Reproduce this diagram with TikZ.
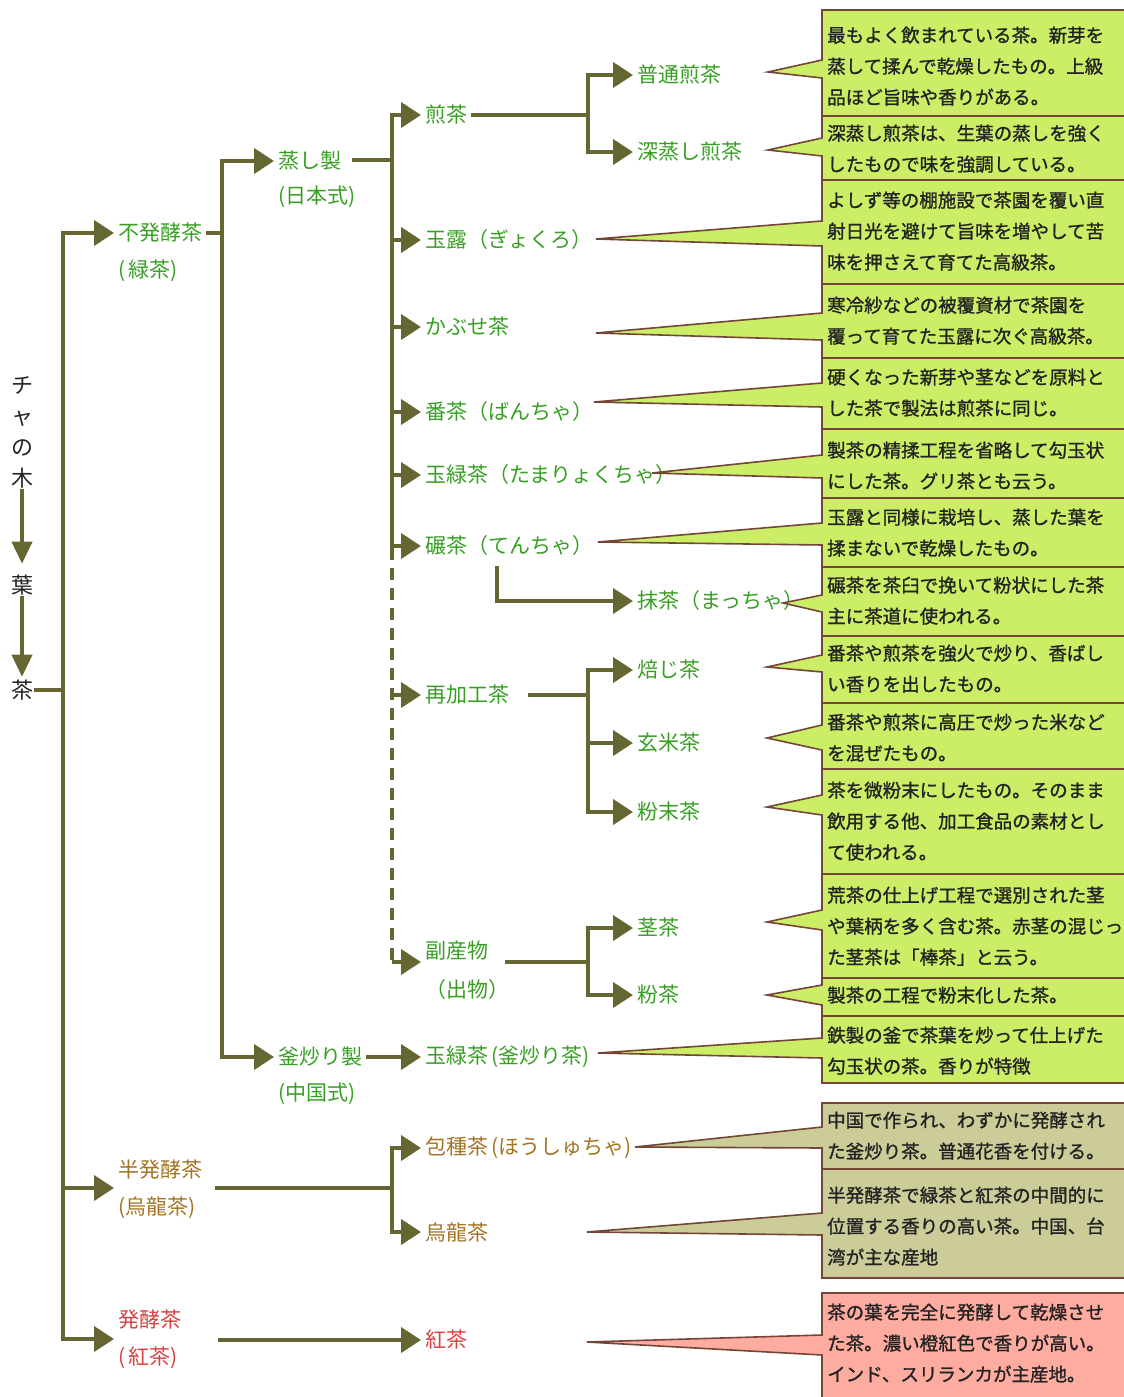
\documentclass[tikz,border=0pt]{standalone}
\usepackage{fontspec}
\newfontfamily\jp{Noto Sans CJK JP}
\newfontfamily\jpb{Noto Sans CJK JP}[FakeBold=1.2]
\usetikzlibrary{arrows.meta}
\definecolor{lineol}{RGB}{102,102,51}
\definecolor{tgreen}{RGB}{55,160,35}
\definecolor{tbrown}{RGB}{165,115,35}
\definecolor{tred}{RGB}{215,65,65}
\definecolor{tdark}{RGB}{35,35,35}
\definecolor{bgreen}{RGB}{204,238,102}
\definecolor{bolive}{RGB}{204,204,153}
\definecolor{bpink}{RGB}{255,172,160}
\definecolor{bbord}{RGB}{115,70,55}
\tikzset{
  ln/.style={draw=lineol, line width=4pt},
  arr/.style={ln, -{Triangle[length=20pt,width=25pt]}},
  varr/.style={ln, -{Triangle[length=22pt,width=20pt]}},
  lab/.style={font=\jp\fontsize{21}{25}\selectfont, text=tgreen, anchor=west, inner xsep=4pt, inner ysep=1pt},
  coltext/.style={font=\jp\fontsize{22}{31}\selectfont, text=tdark, align=center, inner sep=1pt},
  boxtext/.style={font=\jpb\fontsize{18.5}{31}\selectfont, text=tdark, align=left, inner sep=0pt, anchor=north west},
  boxshape/.style={draw=bbord, line width=1.6pt, line join=miter}
}
% #1 top, #2 bottom, #3 wedge top, #4 wedge bottom, #5 tip, #6 fill, #7 first line centre, #8 name, #9 text
\newcommand\teabox[9]{%
  \path[boxshape, fill=#6] (822,#1) -- (1132,#1) -- (1132,#2) -- (822,#2) -- (822,#4) -- (#5) -- (822,#3) -- cycle;
  \node[boxtext] (#8) at (827,#7-14.7) {\strut #9};
}
\begin{document}
\begin{tikzpicture}[x=1pt,y=-1pt]
\fill[white] (0,0) rectangle (1124,1397);
\useasboundingbox (0,0) rectangle (1124,1397);

% left column
\node[coltext] (tree) at (22,432) {チ\\ャ\\の\\木};
\node[coltext] (leaf) at (22,585) {葉};
\node[coltext] (cha) at (22,690) {茶};
\draw[varr, shorten >=10pt] (tree.south) -- (leaf.north);
\draw[varr, shorten >=2pt] (leaf.south) -- (cha.north);

% level 1
\node[lab] (fhk) at (114,233) {不発酵茶};
\node[lab] (fhk2) at (114,271) {(\,緑茶)};
\node[lab,text=tbrown] (hhk) at (114,1170) {半発酵茶};
\node[lab,text=tbrown] (hhk2) at (114,1208) {(烏龍茶)};
\node[lab,text=tred] (hk) at (114,1320) {発酵茶};
\node[lab,text=tred] (hk2) at (114,1358) {(\,紅茶)};

% level 2
\node[lab] (mus) at (274,161) {蒸し製};
\node[lab] (mus2) at (274,197) {(日本式)};
\node[lab] (kama) at (274,1057) {釜炒り製};
\node[lab] (kama2) at (274,1094) {(中国式)};

% level 3
\node[lab] (sen) at (421,115) {煎茶};
\node[lab] (gyo) at (421,240) {玉露（ぎょくろ）};
\node[lab] (kab) at (421,327) {かぶせ茶};
\node[lab] (ban) at (421,412) {番茶（ばんちゃ）};
\node[lab] (tama) at (421,475) {玉緑茶（たまりょくちゃ）};
\node[lab] (ten) at (421,546) {碾茶（てんちゃ）};
\node[lab] (sai) at (421,695) {再加工茶};
\node[lab] (fuku) at (421,951) {副産物};
\node[lab] (fuku2) at (421,990) {（出物）};
\node[lab] (tamak) at (421,1057) {玉緑茶\,(釜炒り茶)};
\node[lab,text=tbrown] (hos) at (421,1148) {包種茶\,(ほうしゅちゃ)};
\node[lab,text=tbrown] (ulo) at (421,1232) {烏龍茶};
\node[lab,text=tred] (kou) at (421,1340) {紅茶};

% level 4
\node[lab] (futsu) at (633,75) {普通煎茶};
\node[lab] (fukam) at (633,152) {深蒸し煎茶};
\node[lab] (mat) at (633,601) {抹茶（まっちゃ）};
\node[lab] (hoji) at (633,670) {焙じ茶};
\node[lab] (gen) at (633,743) {玄米茶};
\node[lab] (fun) at (633,812) {粉末茶};
\node[lab] (kuki) at (633,928) {茎茶};
\node[lab] (kona) at (633,995) {粉茶};

% trunk
\coordinate (J1) at (63,690);
\coordinate (hhkin) at (114,1188);
\coordinate (hkin) at (114,1339);
\draw[ln] (cha.east) -- (J1);
\draw[arr] (J1) |- (fhk.west);
\draw[arr] (J1) |- (hhkin);
\draw[arr] (J1) |- (hkin);

% green tea
\coordinate (J2) at (222,233);
\draw[ln] (fhk.east) -- (J2);
\draw[arr] (J2) |- (mus.west);
\draw[arr] (J2) |- (kama.west);

\coordinate (musout) at (352,160);
\coordinate (J3) at (392,160);
\draw[ln] (musout) -- (J3);
\foreach \n in {sen,gyo,kab,ban,tama,ten} \draw[arr] (J3) |- (\n.west);
\coordinate (D0) at (392,548);
\coordinate (D1) at (392,695);
\coordinate (D2) at (392,962);
\coordinate (fukin) at (421,962);
\draw[ln, dash pattern=on 12pt off 8pt] (D0) -- (D2);
\draw[arr] (D1) -- (sai.west);
\draw[arr] (D2) -- (fukin);

\coordinate (J4) at (588,115);
\draw[ln] (sen.east) -- (J4);
\draw[arr] (J4) |- (futsu.west);
\draw[arr] (J4) |- (fukam.west);

\coordinate (T0) at (497,566);
\draw[arr] (T0) |- (mat.west);

\coordinate (saiout) at (528,695);
\coordinate (J5) at (588,695);
\draw[ln] (saiout) -- (J5);
\foreach \n in {hoji,gen,fun} \draw[arr] (J5) |- (\n.west);

\coordinate (fkout) at (505,962);
\coordinate (J6) at (588,962);
\draw[ln] (fkout) -- (J6);
\draw[arr] (J6) |- (kuki.west);
\draw[arr] (J6) |- (kona.west);

\draw[arr] (kama.east) -- (tamak.west);

% oolong
\coordinate (hhkout) at (215,1188);
\coordinate (J7) at (392,1188);
\draw[ln] (hhkout) -- (J7);
\draw[arr] (J7) |- (hos.west);
\draw[arr] (J7) |- (ulo.west);

% black tea
\coordinate (hkout) at (218,1340);
\draw[arr] (hkout) -- (kou.west);

% callout boxes
\teabox{10}{116}{60}{78}{768,72}{bgreen}{35}{b1}{最もよく飲まれている茶。新芽を\\蒸して揉んで乾燥したもの。上級\\品ほど旨味や香りがある。}
\teabox{116}{180}{138}{156}{768,150}{bgreen}{133}{b2}{深蒸し煎茶は、生葉の蒸しを強く\\したもので味を強調している。}
\teabox{180}{284}{221}{246}{596,239}{bgreen}{200}{b3}{よしず等の棚施設で茶園を覆い直\\射日光を避けて旨味を増やして苦\\味を押さえて育てた高級茶。}
\teabox{284}{358}{313}{340}{596,333}{bgreen}{305}{b4}{寒冷紗などの被覆資材で茶園を\\覆って育てた玉露に次ぐ高級茶。}
\teabox{358}{429}{383}{407}{594,402}{bgreen}{377}{b5}{硬くなった新芽や茎などを原料と\\した茶で製法は煎茶に同じ。}
\teabox{429}{498}{455}{478}{652,473}{bgreen}{450}{b6}{製茶の精揉工程を省略して勾玉状\\にした茶。グリ茶とも云う。}
\teabox{498}{567}{523}{545}{598,542}{bgreen}{517}{b7}{玉露と同様に栽培し、蒸した葉を\\揉まないで乾燥したもの。}
\teabox{567}{636}{595}{612}{783,603}{bgreen}{585}{b8}{碾茶を茶臼で挽いて粉状にした茶\\主に茶道に使われる。}
\teabox{636}{703}{655}{672}{767,667}{bgreen}{653}{b9}{番茶や煎茶を強火で炒り、香ばし\\い香りを出したもの。}
\teabox{703}{769}{725}{750}{767,738}{bgreen}{722}{b10}{番茶や煎茶に高圧で炒った米など\\を混ぜたもの。}
\teabox{769}{874}{795}{815}{767,807}{bgreen}{790}{b11}{茶を微粉末にしたもの。そのまま\\飲用する他、加工食品の素材とし\\て使われる。}
\teabox{874}{978}{910}{930}{767,922}{bgreen}{895}{b12}{荒茶の仕上げ工程で選別された茎\\や葉柄を多く含む茶。赤茎の混じっ\\た茎茶は「棒茶」と云う。}
\teabox{978}{1016}{985}{1005}{767,995}{bgreen}{995}{b13}{製茶の工程で粉末化した茶。}
\teabox{1016}{1083}{1038}{1058}{598,1053}{bgreen}{1035}{b14}{鉄製の釜で茶葉を炒って仕上げた\\勾玉状の茶。香りが特徴}
\teabox{1103}{1169}{1127}{1148}{635,1147}{bolive}{1120}{b15}{中国で作られ、わずかに発酵され\\た釜炒り茶。普通花香を付ける。}
\teabox{1169}{1278}{1213}{1235}{587,1232}{bolive}{1195}{b16}{半発酵茶で緑茶と紅茶の中間的に\\位置する香りの高い茶。中国、台\\湾が主な産地}
\teabox{1293}{1402}{1335}{1355}{587,1342}{bpink}{1312}{b17}{茶の葉を完全に発酵して乾燥させ\\た茶。濃い橙紅色で香りが高い。\\インド、スリランカが主産地。}
\end{tikzpicture}
\end{document}
